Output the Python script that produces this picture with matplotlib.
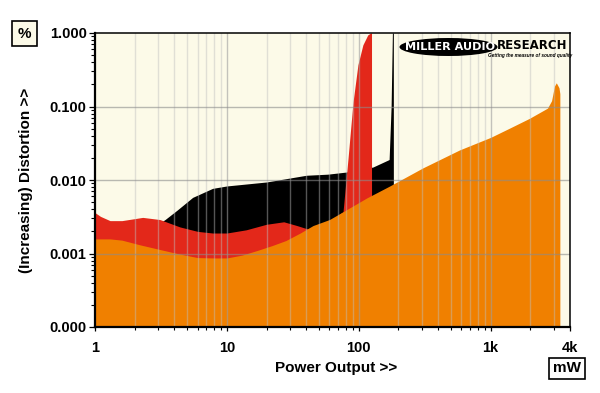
import matplotlib
matplotlib.use("Agg")
import matplotlib.pyplot as plt
from matplotlib.patches import Ellipse
from matplotlib.ticker import FixedLocator, NullFormatter

plt.rcParams['font.family'] = ['Liberation Sans', 'DejaVu Sans']

# ---- data (power in mW, distortion in %) ----
black_x = [3.0, 3.4, 4.2, 5.5, 7.8, 10, 20, 40, 58, 86, 128, 167, 170, 176, 180, 183, 183.1]
black_y = [0.0025, 0.0029, 0.0039, 0.0058, 0.0077, 0.0083, 0.0094, 0.0116, 0.0120, 0.0130, 0.0150, 0.0187, 0.019, 0.1, 1.0, 1.0, 0.0001]

red_x = [1, 1.1, 1.3, 1.6, 2.3, 3.1, 4.4, 6, 7.8, 10, 14, 20, 27, 34, 43, 55, 76, 83, 90.5, 98.6, 107.5, 117, 123, 125, 125.1]
red_y = [0.0036, 0.0032, 0.0028, 0.0028, 0.0031, 0.0029, 0.0023, 0.0020, 0.0019, 0.0019, 0.0021, 0.0025, 0.0027, 0.0024, 0.0021, 0.0025, 0.0037, 0.020, 0.115, 0.37, 0.69, 0.94, 1.0, 1.0, 0.0001]

orange_x = [1, 1.3, 1.6, 2.2, 3, 4.2, 6, 8, 10, 13, 17, 22, 28, 36, 45, 60, 76, 115, 172, 306, 580, 1000, 1400, 1970, 2700, 2900, 3050, 3150, 3300, 3350, 3351]
orange_y = [0.00158, 0.00158, 0.00152, 0.00131, 0.00115, 0.0010, 0.00088, 0.00087, 0.00087, 0.00095, 0.0011, 0.00128, 0.0015, 0.0019, 0.0024, 0.0029, 0.0037, 0.0057, 0.0083, 0.0146, 0.0256, 0.038, 0.051, 0.069, 0.095, 0.12, 0.19, 0.21, 0.18, 0.15, 0.0001]

x_ticks = [1, 10, 100, 1000, 4000]
x_labels = ["1", "10", "100", "1k", "4k"]
y_ticks = [0.0001, 0.001, 0.01, 0.1, 1.0]
y_labels = ["0.000", "0.001", "0.010", "0.100", "1.000"]

ORANGE = "#F08000"
RED = "#E3281A"
CREAM = "#FCFAE8"

fig = plt.figure(figsize=(6.0, 3.93), dpi=100)
fig.patch.set_facecolor("white")
ax = fig.add_axes([95/600, 1-327/393, 475/600, 294/393])
ax.set_facecolor(CREAM)
ax.set_xscale("log")
ax.set_yscale("log")
ax.set_xlim(1, 4000)
ax.set_ylim(0.0001, 1.0)

ax.fill_between(black_x, 0.0001, black_y, color="black", lw=0, zorder=1)
ax.fill_between(red_x, 0.0001, red_y, color=RED, lw=0, zorder=2)
ax.fill_between(orange_x, 0.0001, orange_y, color=ORANGE, lw=0, zorder=3)

# grid lines
minor_x = [m * d for d in (1, 10, 100, 1000) for m in range(2, 10) if m * d < 4000]
for xv in minor_x:
    ax.axvline(xv, color=(0.75, 0.75, 0.75), alpha=0.45, lw=1.0, zorder=4)
for xv in [10, 100, 1000]:
    ax.axvline(xv, color=(0.62, 0.62, 0.62), alpha=0.6, lw=1.0, zorder=4)
for yv in [0.001, 0.01, 0.1]:
    ax.axhline(yv, color=(0.55, 0.55, 0.55), alpha=0.6, lw=1.0, zorder=4)

ax.xaxis.set_major_locator(FixedLocator(x_ticks))
ax.set_xticklabels(x_labels)
ax.xaxis.set_minor_locator(FixedLocator(minor_x))
ax.xaxis.set_minor_formatter(NullFormatter())
ax.yaxis.set_major_locator(FixedLocator(y_ticks))
ax.set_yticklabels(y_labels)
minor_y = [m * d for d in (0.0001, 0.001, 0.01, 0.1) for m in range(2, 10)]
ax.yaxis.set_minor_locator(FixedLocator(minor_y))
ax.yaxis.set_minor_formatter(NullFormatter())

ax.tick_params(axis="y", which="major", length=4.5, width=0.9, pad=1.5, direction="out",
               labelsize=10.5, colors="black")
ax.tick_params(axis="y", which="minor", length=2.8, width=0.8, direction="out")
ax.tick_params(axis="x", which="major", length=3.0, width=0.9, pad=7, direction="out",
               labelsize=10.5)
ax.tick_params(axis="x", which="minor", length=2.2, width=0.8, direction="out")
for lab in ax.get_xticklabels() + ax.get_yticklabels():
    lab.set_fontweight("bold")

for side in ("left", "bottom"):
    ax.spines[side].set_linewidth(1.6)
for side in ("top", "right"):
    ax.spines[side].set_linewidth(1.1)
for sp in ax.spines.values():
    sp.set_zorder(6)

# axis titles
fig.text(26/600, 1-180/393, "(Increasing) Distortion >>", rotation=90, ha="center", va="center",
         fontsize=11, fontweight="bold")
fig.text(336/600, 1-368/393, "Power Output >>", ha="center", va="center",
         fontsize=11, fontweight="bold")

# unit boxes
fig.text(24.5/600, 1-33.5/393, "%", ha="center", va="center", fontsize=11, fontweight="bold",
         bbox=dict(boxstyle="square,pad=0.35", fc=CREAM, ec="black", lw=1.2))
fig.text(567/600, 1-368.5/393, "mW", ha="center", va="center", fontsize=11, fontweight="bold",
         bbox=dict(boxstyle="square,pad=0.25", fc="white", ec="black", lw=1.2))

# logo
ell = Ellipse((448.5/600, 1-47/393), 98/600, 18/393, transform=fig.transFigure,
              facecolor="black", edgecolor="none", zorder=10)
fig.patches.append(ell)
fig.text(450/600, 1-46.5/393, "MILLER AUDIO", ha="center", va="center", color="white",
         fontsize=8.1, fontweight="bold", family="DejaVu Sans", zorder=11)
fig.text(532.5/600, 1-45.5/393, "RESEARCH", ha="center", va="center", color="black",
         fontsize=8.5, fontweight="bold", family="DejaVu Sans", zorder=11)
fig.text(530/600, 1-55/393, "Getting the measure of sound quality", ha="center", va="center",
         color="black", fontsize=3.4, fontweight="bold", style="italic", zorder=11)

fig.savefig("out.png", dpi=100, facecolor="white")
